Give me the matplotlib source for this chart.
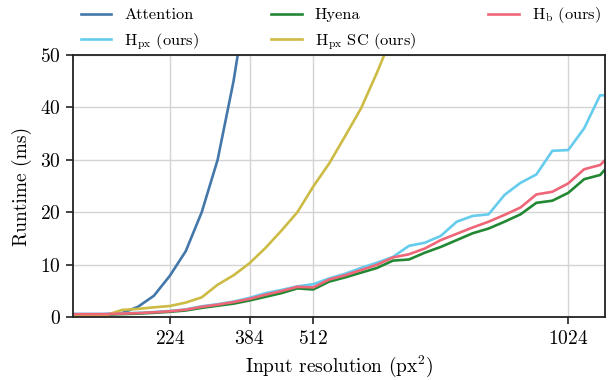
import matplotlib
matplotlib.use("Agg")
import matplotlib.pyplot as plt

plt.rcParams['font.family'] = 'serif'
plt.rcParams['font.serif'] = ['cmr10']
plt.rcParams['mathtext.fontset'] = 'cm'
plt.rcParams['axes.formatter.use_mathtext'] = True

resolution = [32, 64, 96, 128, 160, 192, 224, 256, 288, 320, 352, 384, 416, 448,
              480, 512, 544, 576, 608, 640, 672, 704, 736, 768, 800, 832, 864, 896,
              928, 960, 992, 1024, 1056, 1088, 1120]

attention = [0.5, 0.5, 0.6, 0.8, 2.0, 4.1, 7.9, 12.6, 20.0, 30.0, 45.0, 64.0]

hpx = [0.65, 0.65, 0.65, 0.75, 0.85, 1.0, 1.2, 1.5, 2.1, 2.5, 3.0, 3.7, 4.6, 5.2,
       5.9, 6.3, 7.4, 8.3, 9.4, 10.4, 11.5, 13.6, 14.2, 15.5, 18.2, 19.3, 19.6,
       23.3, 25.6, 27.2, 31.7, 31.85, 36.0, 42.3, 42.1]

hyena = [0.5, 0.5, 0.5, 0.6, 0.7, 0.85, 1.05, 1.3, 1.8, 2.2, 2.6, 3.2, 3.9, 4.6,
         5.5, 5.3, 6.8, 7.6, 8.5, 9.4, 10.8, 11.0, 12.3, 13.4, 14.7, 16.0, 16.9,
         18.2, 19.6, 21.8, 22.2, 23.7, 26.3, 27.1, 30.5]

hpx_sc = [0.3, 0.3, 0.4, 1.4, 1.6, 1.9, 2.15, 2.8, 3.8, 6.2, 8.0, 10.3, 13.2, 16.5,
          20.0, 24.9, 29.3, 34.5, 39.8, 46.6, 54.0]

hb = [0.6, 0.6, 0.6, 0.7, 0.8, 0.95, 1.15, 1.45, 2.0, 2.4, 2.9, 3.5, 4.3, 5.0,
      5.8, 5.7, 7.2, 8.0, 9.0, 10.0, 11.4, 12.0, 13.1, 14.7, 15.9, 17.1, 18.2,
      19.5, 20.9, 23.4, 23.9, 25.5, 28.2, 29.0, 32.0]

xticks = [224, 384, 512, 1024]
yticks = [0, 10, 20, 30, 40, 50]

fig = plt.figure(figsize=(6.1, 3.8), dpi=100)
ax = fig.add_axes([0.120, 0.165, 0.872, 0.691])

lw = 1.9
ax.plot(resolution[:len(attention)], attention, color='#4477AA', lw=lw, label='Attention')
ax.plot(resolution, hpx, color='#66CCEE', lw=lw, label=r'H$_{\rm px}$ (ours)')
ax.plot(resolution, hyena, color='#228833', lw=lw, label='Hyena')
ax.plot(resolution[:len(hpx_sc)], hpx_sc, color='#CCBB44', lw=lw, label=r'H$_{\rm px}$ SC (ours)')
ax.plot(resolution, hb, color='#EE6677', lw=lw, label=r'H$_{\rm b}$ (ours)')

ax.set_xlim(30, 1098)
ax.set_ylim(0, 50)
ax.set_xticks(xticks)
ax.set_yticks(yticks)
ax.grid(True, color='#d4d4d4', lw=1.0)
ax.set_axisbelow(True)
for s in ax.spines.values():
    s.set_color('#222222')
    s.set_linewidth(1.3)
ax.tick_params(axis='both', direction='out', length=5, width=1.2, color='#222222',
               labelsize=14, pad=4)
ax.set_xlabel(r'Input resolution (px$^2$)', fontsize=14, labelpad=4)
ax.set_ylabel('Runtime (ms)', fontsize=14, labelpad=6)

fig.legend(loc='upper left', bbox_to_anchor=(0.116, 1.012), ncol=3, frameon=False,
           fontsize=11.8, handlelength=1.85, columnspacing=4.4, borderaxespad=0.2,
           labelspacing=0.55, handletextpad=0.8)

fig.savefig('out.png', dpi=100)
